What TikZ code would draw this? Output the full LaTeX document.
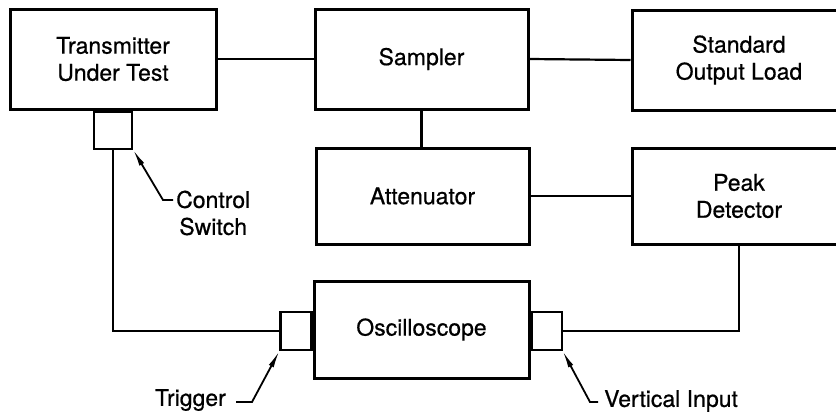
\documentclass[tikz,border=0pt]{standalone}
\usepackage{fontspec}
\setmainfont{TeX Gyre Heros}[FakeBold=0.6]
\usetikzlibrary{arrows.meta}

\begin{document}
\begin{tikzpicture}[x=1pt, y=-1pt, font=\fontsize{23}{27}\selectfont,
	blk/.style={draw, line width=3pt, align=center, inner sep=0pt},
	port/.style={draw, line width=2.2pt, inner sep=0pt, minimum height=38pt},
	lbl/.style={inner sep=0pt, align=center},
	wire/.style={line width=2.2pt},
	tip/.style={line width=1.8pt, -{Latex[length=17pt,width=5.5pt]}}]
	
	\def\yTop{59}
	\def\yMid{196}
	\def\yLow{329.5}
	\def\xC{421.5}
	\def\xR{739}
	
	\useasboundingbox (0,0) rectangle (836,413);
	\clip (0,0) rectangle (836,413);
	
	% ── Bloques ────────────────────────────────────────────
	\node[blk, minimum width=206pt, minimum height=100pt] (tx) at (113,\yTop) {Transmitter\\Under Test};
	\node[blk, minimum width=213pt, minimum height=100pt] (samp) at (\xC,\yTop) {Sampler};
	\node[blk, minimum width=214pt, minimum height=100pt] (load) at (\xR,\yTop+1) {Standard\\Output Load};
	\node[blk, minimum width=213pt, minimum height=96pt] (att) at (\xC+1,\yMid) {Attenuator};
	\node[blk, minimum width=214pt, minimum height=96pt] (peak) at (\xR,\yMid) {Peak\\Detector};
	\node[blk, minimum width=215pt, minimum height=97pt] (osc) at (\xC,\yLow) {Oscilloscope};
	
	% ── Conectores pequeños ────────────────────────────────
	\node[port, minimum width=38pt, minimum height=37pt, anchor=north] (sw) at (tx.south) {};
	\node[port, minimum width=31pt, anchor=east] (trig) at ([yshift=-1.5pt]osc.west) {};
	\node[port, minimum width=30pt, anchor=west] (vin) at ([yshift=-1.5pt]osc.east) {};
	
	% ── Cables ─────────────────────────────────────────────
	\draw[wire] (tx.east) -- (samp.west);
	\draw[wire] (samp.east) -- (load.west);
	\draw[wire] (samp.south) -- (samp.south |- att.north);
	\draw[wire] (att.east) -- (peak.west);
	\draw[wire] (peak.south) |- (vin.east);
	\draw[wire] (sw.south) |- (trig.west);
	
	% ── Etiquetas con flecha ───────────────────────────────
	\node[lbl, anchor=west] (cswl) at (176,213) {Control\\Switch};
	\draw[tip] ([xshift=-3pt,yshift=13pt]cswl.west) -- ++(-10,0) -- (sw.south east);
	
	\node[lbl, anchor=east] (trgl) at (226,400) {Trigger};
	\draw[tip] ([xshift=10pt,yshift=-2pt]trgl.east) -- ++(16,0) -- (trig.south west);
	
	\node[lbl, anchor=west] (vinl) at (604,401) {Vertical Input};
	\draw[tip] ([xshift=-6pt,yshift=-1pt]vinl.west) -- ++(-8,0) -- (vin.south east);
	
\end{tikzpicture}
\end{document}
